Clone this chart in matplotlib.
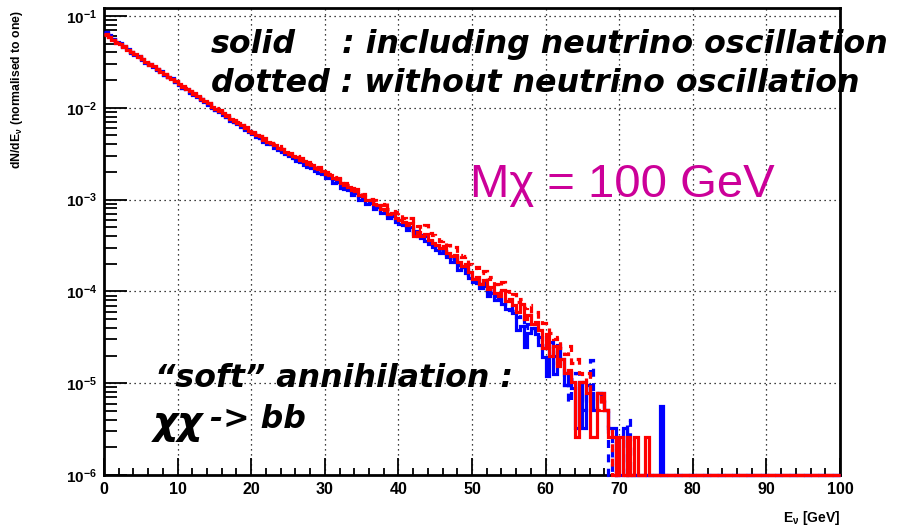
import matplotlib
matplotlib.use("Agg")
import matplotlib.pyplot as plt
import numpy as np
from matplotlib.ticker import FixedLocator, NullFormatter, MultipleLocator

# ---- data: log10(dN/dE) per 0.5 GeV bin, None = empty bin ----
bin_width = 0.5
n_bins = 200

red_solid = [
    -1.21, -1.23, -1.26, -1.29, -1.31, -1.33, -1.37, -1.39, -1.42, -1.45,
    -1.47, -1.50, -1.53, -1.55, -1.58, -1.61, -1.63, -1.66, -1.69, -1.71,
    -1.74, -1.77, -1.80, -1.82, -1.85, -1.87, -1.91, -1.93, -1.95, -1.99,
    -2.01, -2.04, -2.06, -2.09, -2.12, -2.14, -2.17, -2.19, -2.22, -2.25,
    -2.27, -2.30, -2.31, -2.35, -2.37, -2.38, -2.41, -2.44, -2.45, -2.48,
    -2.50, -2.53, -2.54, -2.57, -2.58, -2.61, -2.62, -2.66, -2.67, -2.69,
    -2.72, -2.73, -2.77, -2.78, -2.82, -2.84, -2.86, -2.90, -2.91, -2.95,
    -2.96, -3.00, -3.01, -3.05, -3.06, -3.10, -3.11, -3.16, -3.15, -3.20,
    -3.22, -3.24, -3.28, -3.26, -3.40, -3.35, -3.40, -3.37, -3.44, -3.47,
    -3.49, -3.53, -3.51, -3.58, -3.61, -3.60, -3.68, -3.72, -3.70, -3.79,
    -3.86, -3.84, -3.92, -3.88, -3.97, -3.95, -4.02, -4.05, -3.99, -4.10,
    -4.08, -4.15, -4.22, -4.14, -4.30, -4.26, -4.36, -4.33, -4.42, -4.62,
    -4.46, -4.70, -4.60, -4.81, -4.74, -4.89, -4.86, -4.99, -5.59, -4.99,
    -4.99, -5.11, -5.59, -5.59, -5.11, -5.11, -5.29, -5.59, -5.59, None,
    -5.59, None, -5.59, None, -5.59, None, None, -5.59,
]

blue_solid = [
    -1.17, -1.21, -1.25, -1.28, -1.30, -1.34, -1.36, -1.39, -1.43, -1.44,
    -1.48, -1.51, -1.52, -1.56, -1.59, -1.60, -1.64, -1.67, -1.68, -1.72,
    -1.75, -1.78, -1.80, -1.84, -1.86, -1.88, -1.92, -1.94, -1.97, -2.00,
    -2.03, -2.05, -2.08, -2.10, -2.14, -2.16, -2.18, -2.21, -2.24, -2.26,
    -2.29, -2.32, -2.33, -2.37, -2.40, -2.40, -2.44, -2.46, -2.48, -2.50,
    -2.53, -2.55, -2.58, -2.59, -2.62, -2.65, -2.66, -2.69, -2.71, -2.72,
    -2.77, -2.76, -2.82, -2.81, -2.87, -2.88, -2.90, -2.95, -2.93, -3.00,
    -3.01, -3.05, -3.04, -3.10, -3.08, -3.15, -3.13, -3.20, -3.18, -3.24,
    -3.27, -3.28, -3.33, -3.30, -3.37, -3.40, -3.42, -3.45, -3.48, -3.52,
    -3.55, -3.58, -3.56, -3.63, -3.68, -3.66, -3.77, -3.74, -3.80, -3.85,
    -3.90, -3.91, -3.96, -3.94, -4.05, -4.02, -4.09, -4.08, -4.14, -4.19,
    -4.20, -4.24, -4.42, -4.38, -4.61, -4.45, -4.40, -4.46, -4.58, -4.72,
    -4.92, -4.55, -4.90, -4.58, -4.74, -5.02, -4.88, -5.05, -5.49, -4.99,
    -5.49, -5.02, -5.11, -5.29, -5.11, -5.19, -5.29, -5.49, -5.49, None,
    None, -5.49, None, None, None, None, None, None, None, None,
    None, -5.25,
]

blue_dotted = [
    -1.19, -1.22, -1.25, -1.29, -1.31, -1.33, -1.37, -1.40, -1.42, -1.45,
    -1.47, -1.51, -1.53, -1.55, -1.58, -1.61, -1.64, -1.66, -1.69, -1.72,
    -1.74, -1.78, -1.80, -1.83, -1.85, -1.88, -1.91, -1.93, -1.96, -1.99,
    -2.02, -2.04, -2.07, -2.10, -2.12, -2.15, -2.17, -2.20, -2.23, -2.25,
    -2.28, -2.30, -2.33, -2.35, -2.38, -2.39, -2.42, -2.44, -2.47, -2.49,
    -2.51, -2.53, -2.56, -2.58, -2.60, -2.62, -2.64, -2.66, -2.69, -2.70,
    -2.73, -2.75, -2.78, -2.80, -2.83, -2.85, -2.87, -2.91, -2.92, -2.96,
    -2.98, -3.01, -3.03, -3.06, -3.08, -3.11, -3.13, -3.17, -3.17, -3.21,
    -3.23, -3.26, -3.29, -3.29, -3.34, -3.36, -3.39, -3.40, -3.45, -3.48,
    -3.51, -3.55, -3.54, -3.60, -3.64, -3.63, -3.71, -3.73, -3.76, -3.82,
    -3.86, -3.88, -3.93, -3.91, -4.00, -3.99, -4.05, -4.07, -4.08, -4.14,
    -4.15, -4.21, -4.28, -4.25, -4.40, -4.35, -4.40, -4.42, -4.50, -4.58,
    -4.62, -4.66, -4.70, -4.78, -4.80, -5.02, -5.20, -4.95, -4.89, -5.11,
    -5.29, -5.11, -4.75, -5.11, -5.11, -5.11, -5.29, None, -5.59, None,
    None, None, -5.40,
]

red_dotted = [
    -1.20, -1.23, -1.26, -1.28, -1.31, -1.34, -1.36, -1.39, -1.42, -1.44,
    -1.47, -1.50, -1.52, -1.55, -1.58, -1.60, -1.63, -1.66, -1.68, -1.71,
    -1.74, -1.76, -1.79, -1.82, -1.84, -1.87, -1.90, -1.92, -1.95, -1.98,
    -2.00, -2.03, -2.06, -2.08, -2.11, -2.13, -2.16, -2.19, -2.21, -2.24,
    -2.26, -2.29, -2.31, -2.33, -2.36, -2.38, -2.40, -2.42, -2.45, -2.47,
    -2.49, -2.51, -2.53, -2.55, -2.58, -2.59, -2.61, -2.64, -2.65, -2.68,
    -2.70, -2.72, -2.75, -2.77, -2.79, -2.82, -2.84, -2.87, -2.89, -2.92,
    -2.94, -2.97, -2.99, -3.01, -3.04, -3.06, -3.02, -3.10, -3.12, -3.15,
    -3.14, -3.20, -3.22, -3.20, -3.27, -3.29, -3.32, -3.28, -3.36, -3.39,
    -3.41, -3.45, -3.44, -3.50, -3.53, -3.52, -3.60, -3.63, -3.62, -3.70,
    -3.75, -3.73, -3.80, -3.78, -3.86, -3.84, -3.92, -3.95, -3.90, -4.00,
    -4.05, -4.03, -4.12, -4.08, -4.18, -4.15, -4.24, -4.22, -4.30, -4.34,
    -4.40, -4.45, -4.52, -4.50, -4.62, -4.68, -4.60, -4.78, -4.74, -4.89,
    -4.99, -4.89, -5.11, -5.11, -5.29, -5.11, -5.29, -5.48,
]

x_ticks = [0, 10, 20, 30, 40, 50, 60, 70, 80, 90, 100]
y_ticks = [1e-6, 1e-5, 1e-4, 1e-3, 1e-2, 1e-1]
y_ticklabels = [r"$10^{-6}$", r"$10^{-5}$", r"$10^{-4}$", r"$10^{-3}$", r"$10^{-2}$", r"$10^{-1}$"]

YMIN, YMAX = 1e-6, 0.122


def to_hist(logvals):
    # empty bins sit on the axis floor, as ROOT draws them
    v = np.full(n_bins, YMIN)
    for i, lv in enumerate(logvals):
        if lv is not None:
            v[i] = 10.0 ** lv
    return v


plt.rcParams.update({
    "font.family": ["Liberation Sans", "DejaVu Sans"],
    "font.weight": "bold",
    "mathtext.fontset": "custom",
    "mathtext.rm": "Liberation Sans:bold",
    "mathtext.bf": "Liberation Sans:bold",
    "mathtext.it": "Liberation Sans:bold:italic",
    "mathtext.default": "rm",
})

W, H = 905, 528
fig = plt.figure(figsize=(W / 100, H / 100), dpi=100)
ax = fig.add_axes([104 / W, 1 - 475 / H, 736 / W, 467 / H])

edges = np.arange(n_bins + 1) * bin_width
style = dict(baseline=None, lw=2.3, clip_on=False)
ax.stairs(to_hist(blue_solid), edges, color="#0000ff", zorder=3, **style)
ax.stairs(to_hist(blue_dotted), edges, color="#0000ff", ls=(0, (2.5, 2)), zorder=4, **style)
ax.stairs(to_hist(red_dotted), edges, color="#ff0000", ls=(0, (2.5, 2)), zorder=5, **style)
ax.stairs(to_hist(red_solid), edges, color="#ff0000", zorder=6, **style)

ax.set_yscale("log")
ax.set_xlim(0, 100)
ax.set_ylim(YMIN, YMAX)

ax.xaxis.set_major_locator(FixedLocator(x_ticks))
ax.xaxis.set_minor_locator(MultipleLocator(2))
ax.set_xticklabels([str(t) for t in x_ticks])
ax.yaxis.set_major_locator(FixedLocator(y_ticks))
ax.set_yticklabels(y_ticklabels)
minors = [m * 10.0 ** e for e in range(-6, -1) for m in range(2, 10)]
ax.yaxis.set_minor_locator(FixedLocator(minors))
ax.yaxis.set_minor_formatter(NullFormatter())

ax.tick_params(axis="x", which="major", direction="in", length=12, width=1.3, labelsize=11.5, pad=5)
ax.tick_params(axis="x", which="minor", direction="in", length=5, width=1.3)
ax.tick_params(axis="y", which="major", direction="in", length=16.5, width=1.3, labelsize=11, pad=5)
ax.tick_params(axis="y", which="minor", direction="in", length=9.5, width=1.3)
for s in ax.spines.values():
    s.set_linewidth(2.0)
    s.set_zorder(2.5)

ax.grid(True, which="major", color="black", lw=0.9, ls=(0, (1, 3)))
ax.set_axisbelow(True)

# labels
fig.text(17 / W, 1 - 10 / H, r"dN/dE$_{\nu}$ (normalised to one)", rotation=90,
         ha="center", va="top", fontsize=8.8, fontweight="bold")
fig.text(840 / W, 1 - 518 / H, r"E$_{\nu}$ [GeV]", ha="right", va="center",
         fontsize=10, fontweight="bold")

ann = dict(family="DejaVu Sans", fontweight="bold", style="italic", fontsize=22.8,
           color="black", va="baseline", ha="left")
fig.text(211 / W, 1 - 53 / H, "solid", **ann)
fig.text(342 / W, 1 - 53 / H, ": including neutrino oscillation", **ann)
fig.text(211 / W, 1 - 92 / H, "dotted : without neutrino oscillation", **ann)
fig.text(155 / W, 1 - 387 / H, "\u201csoft\u201d annihilation :", **ann)
fig.text(153 / W, 1 - 434 / H, "\u03c7\u03c7", **dict(ann, fontsize=28))
fig.text(210 / W, 1 - 428 / H, "-> bb", **ann)

fig.text(470 / W, 1 - 185 / H, "M\u03c7 = 100 GeV", ha="left", va="center",
         fontsize=34, fontweight="normal", color="#cc0099")

fig.savefig("out.png", dpi=100)
